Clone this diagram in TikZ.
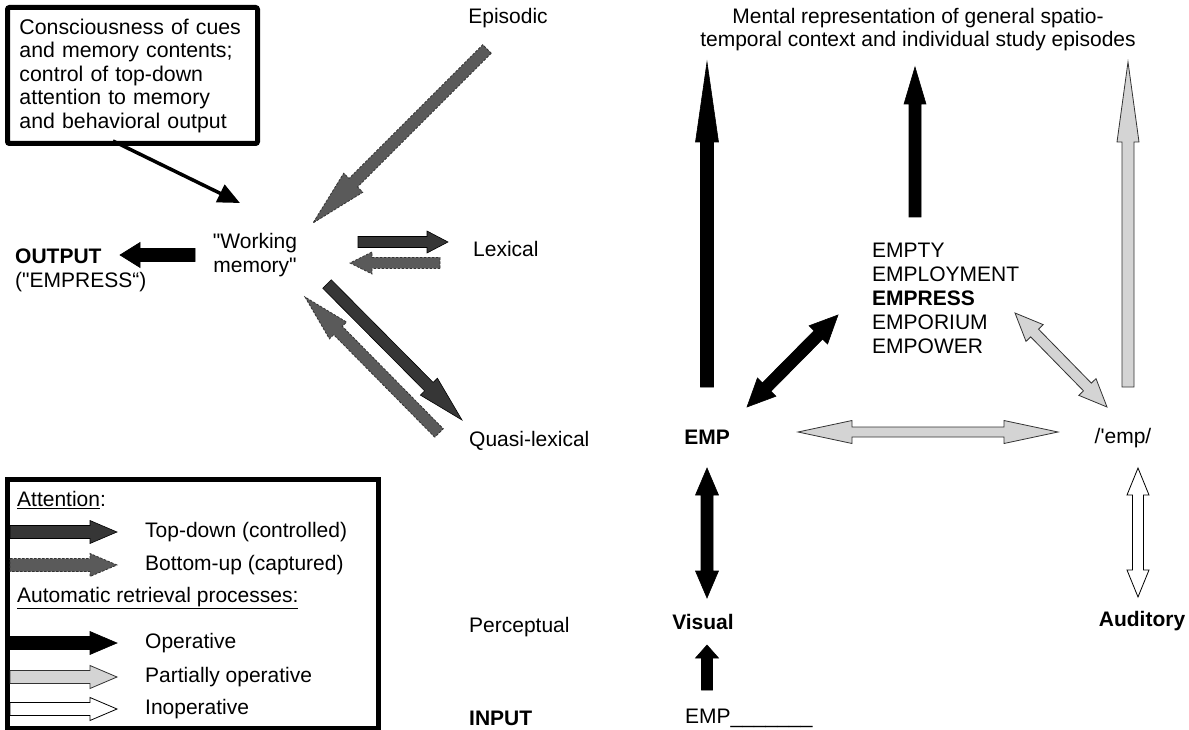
\documentclass[tikz,border=0pt]{standalone}
\usepackage{fontspec}
\setmainfont{Liberation Sans}
\usetikzlibrary{calc,arrows.meta}

\definecolor{tdgray}{HTML}{363636}
\definecolor{bugray}{HTML}{5A5A5A}
\definecolor{pogray}{HTML}{D4D4D4}

\tikzset{
  topdown/.style={fill=tdgray,draw=black,line width=0.6pt,line join=miter},
  bottomup/.style={fill=bugray,draw=black!80,line width=0.8pt,dash pattern=on 2.5pt off 1.5pt,line join=miter},
  operative/.style={fill=black,draw=black,line width=0.6pt,line join=miter},
  partial/.style={fill=pogray,draw=black!80,line width=0.8pt,line join=miter},
  inoperative/.style={fill=white,draw=black,line width=0.8pt,line join=miter},
  lbl/.style={inner sep=0pt,font=\fontsize{21}{24}\selectfont},
  frame/.style={draw,line width=5pt,rounded corners=2pt},
}

% single fat arrow: style, tail, tip, half shaft width, head length, half head width
\newcommand{\fatarrow}[6]{%
  \coordinate (fahead) at ($(#3)!#5!(#2)$);
  \draw[#1] ($(#2)!#4!90:(#3)$) -- ($(fahead)!#4!90:(#3)$) -- ($(fahead)!#6!90:(#3)$)
    -- (#3) -- ($(fahead)!#6!-90:(#3)$) -- ($(fahead)!#4!-90:(#3)$)
    -- ($(#2)!#4!-90:(#3)$) -- cycle;}

% double-headed fat arrow: style, end A, end B, half shaft width, head length, half head width
\newcommand{\fatdarrow}[6]{%
  \coordinate (faA) at ($(#2)!#5!(#3)$);
  \coordinate (faB) at ($(#3)!#5!(#2)$);
  \draw[#1] (#2) -- ($(faA)!#6!-90:(#3)$) -- ($(faA)!#4!-90:(#3)$)
    -- ($(faB)!#4!-90:(#3)$) -- ($(faB)!#6!-90:(#3)$) -- (#3)
    -- ($(faB)!#6!90:(#3)$) -- ($(faB)!#4!90:(#3)$)
    -- ($(faA)!#4!90:(#3)$) -- ($(faA)!#6!90:(#3)$) -- cycle;}

\begin{document}
\begin{tikzpicture}[x=1pt,y=-1pt]
\useasboundingbox (0,0) rectangle (1189,730);

% ---------- left half: attention and working memory ----------
\node[frame,lbl,anchor=north west,text width=226pt,align=left,inner xsep=12pt,
      minimum height=136pt,font=\fontsize{21.3}{23.5}\selectfont] (consc) at (5,5)
  {Consciousness of cues\\and memory contents;\\control of top-down\\attention to memory\\and behavioral output};

\node[lbl,align=center,font=\fontsize{21}{24}\selectfont] (wm) at (255,255)
  {\textquotedbl Working\\memory\textquotedbl};
\node[lbl,align=left,anchor=west,font=\fontsize{21}{24}\selectfont] (out) at (15,270)
  {\textbf{OUTPUT}\\(\textquotedbl EMPRESS“)};

\node[lbl] (epi) at (508,18) {Episodic};
\node[lbl,anchor=west] (lex) at (473,249) {Lexical};
\node[lbl,anchor=west] (quasi) at (469,441) {Quasi-lexical};
\node[lbl,anchor=west] (perc) at (469,627) {Perceptual};
\node[lbl,anchor=west] (inp) at (469,718) {\textbf{INPUT}};

\coordinate (conscOut) at (113,141);
\coordinate (wmIn) at (240,203);
\draw[line width=3.5pt,-{Triangle[length=22pt,width=19pt]}] (conscOut) -- (wmIn);

\coordinate (outTail) at (195,255);
\coordinate (outTip) at (120,255);
\fatarrow{operative}{outTail}{outTip}{6.5pt}{20pt}{12.5pt}

\coordinate (epiTail) at (487,49);
\coordinate (epiTip) at (313,223);
\fatarrow{bottomup}{epiTail}{epiTip}{6pt}{57pt}{13.5pt}

\coordinate (lexTdTail) at (358,242);
\coordinate (lexTdTip) at (448,242);
\fatarrow{topdown}{lexTdTail}{lexTdTip}{5.5pt}{21pt}{11pt}
\coordinate (lexBuTail) at (440,263);
\coordinate (lexBuTip) at (350,263);
\fatarrow{bottomup}{lexBuTail}{lexBuTip}{5.5pt}{22pt}{11pt}

\coordinate (qTdTail) at (327,284);
\coordinate (qTdTip) at (462,420);
\fatarrow{topdown}{qTdTail}{qTdTip}{6pt}{47pt}{12pt}
\coordinate (qBuTail) at (439,433);
\coordinate (qBuTip) at (305,297);
\fatarrow{bottomup}{qBuTail}{qBuTip}{6pt}{47pt}{12pt}

% ---------- right half: retrieval routes ----------
\node[lbl,align=center,font=\fontsize{21}{23}\selectfont] (ment) at (918,30)
  {Mental representation of general spatio-\\temporal context and individual study episodes};

\node[lbl,font=\fontsize{21}{24}\selectfont\bfseries] (emp) at (707,437) {EMP};
\node[lbl,align=left,anchor=west,font=\fontsize{21}{24}\selectfont] (words) at (872,298)
  {EMPTY\\EMPLOYMENT\\\textbf{EMPRESS}\\EMPORIUM\\EMPOWER};
\node[lbl] (phon) at (1123,438) {/\textquotesingle emp/};
\node[lbl,font=\fontsize{21}{24}\selectfont\bfseries] (vis) at (703,622) {Visual};
\node[lbl,font=\fontsize{21}{24}\selectfont\bfseries] (aud) at (1142,621) {Auditory};
\node[lbl,anchor=west] (stim) at (685,718) {EMP\_\_\_\_\_\_\_};

\coordinate (empUp) at (707,387);
\coordinate (empTop) at (707,62);
\fatarrow{operative}{empUp}{empTop}{6.5pt}{80pt}{11.5pt}

\coordinate (wordsUp) at (915,217);
\coordinate (wordsTop) at (915,67);
\fatarrow{operative}{wordsUp}{wordsTop}{6pt}{37pt}{11pt}

\coordinate (phonUp) at (1128,387);
\coordinate (phonTop) at (1128,62);
\fatarrow{partial}{phonUp}{phonTop}{6pt}{80pt}{11pt}

\coordinate (empNE) at (747,407);
\coordinate (wordsSW) at (838,315);
\fatdarrow{operative}{empNE}{wordsSW}{6pt}{28pt}{13pt}

\coordinate (wordsSE) at (1015,313);
\coordinate (phonNW) at (1107,407);
\fatdarrow{partial}{wordsSE}{phonNW}{5.5pt}{28pt}{12pt}

\coordinate (empE) at (798,432);
\coordinate (phonW) at (1058,432);
\fatdarrow{partial}{empE}{phonW}{5pt}{54pt}{11.5pt}

\coordinate (empS) at (707,468);
\coordinate (visN) at (707,598);
\fatdarrow{operative}{empS}{visN}{6pt}{27pt}{11.5pt}

\coordinate (stimN) at (707,690);
\coordinate (visS) at (707,645);
\fatarrow{operative}{stimN}{visS}{5.5pt}{13pt}{11.5pt}

\coordinate (phonS) at (1138,468);
\coordinate (audN) at (1138,597);
\fatdarrow{inoperative}{phonS}{audN}{5.5pt}{27pt}{11pt}

% ---------- legend ----------
\node[frame,rounded corners=0pt,anchor=north west,minimum width=371pt,minimum height=249pt,inner sep=0pt] (legend) at (5,477) {};
\node[lbl,anchor=west] (legAtt) at (17,500) {\underline{Attention}:};
\node[lbl,anchor=west] (legTd) at (145,532) {Top-down (controlled)};
\node[lbl,anchor=west] (legBu) at (145,565) {Bottom-up (captured)};
\node[lbl,anchor=west] (legAuto) at (17,598) {\underline{Automatic retrieval processes:}};
\node[lbl,anchor=west] (legOp) at (145,643) {Operative};
\node[lbl,anchor=west] (legPo) at (145,677) {Partially operative};
\node[lbl,anchor=west] (legIn) at (145,709) {Inoperative};

\foreach \st/\yy in {topdown/532,bottomup/565,operative/643,partial/677,inoperative/709}{
  \coordinate (lt) at (10,\yy);
  \coordinate (lh) at (117,\yy);
  \fatarrow{\st}{lt}{lh}{6.5pt}{27pt}{11.5pt}
}
\end{tikzpicture}
\end{document}
